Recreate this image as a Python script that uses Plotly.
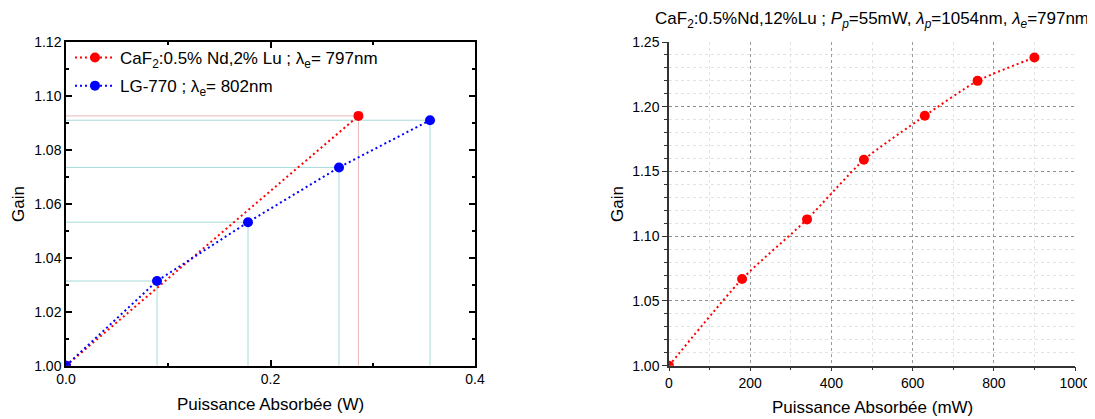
import plotly.graph_objects as go

# ---------------- data ----------------
# Left panel
caf_x = [0.0, 0.286]
caf_y = [1.000, 1.0926]
lg_x = [0.0, 0.089, 0.178, 0.267, 0.356]
lg_y = [1.000, 1.0314, 1.0532, 1.0735, 1.0910]
left_xticks = [0.0, 0.2, 0.4]
left_xticklabels = ["0.0", "0.2", "0.4"]
left_yticks = [1.00, 1.02, 1.04, 1.06, 1.08, 1.10, 1.12]
left_yticklabels = ["1.00", "1.02", "1.04", "1.06", "1.08", "1.10", "1.12"]

# Right panel
r_x = [0, 180, 340, 480, 630, 760, 900]
r_y = [1.000, 1.067, 1.113, 1.159, 1.193, 1.220, 1.238]
right_xticks = [0, 200, 400, 600, 800, 1000]
right_yticks = [1.00, 1.05, 1.10, 1.15, 1.20, 1.25]
right_yticklabels = ["1.00", "1.05", "1.10", "1.15", "1.20", "1.25"]

# page body has an 8px margin; the figure is sized to fit the window
OFF = 8
W, H = 1095 - OFF, 419 - OFF
def px(x):  # window pixel x -> paper fraction
    return (x - OFF) / W
def py(y):  # window pixel y -> paper fraction
    return 1 - (y - OFF) / H

FONT = "Liberation Sans, Arial, sans-serif"
RED = "#ff0000"
BLUE = "#0000ff"

fig = go.Figure()

fig.add_trace(go.Scatter(
    x=caf_x, y=caf_y, mode="lines+markers", legendgroup="a",
    name="CaF<sub>2</sub>:0.5% Nd,2% Lu ; λ<sub>e</sub>= 797nm",
    line=dict(color=RED, width=2, dash="2px,3px"),
    marker=dict(color=RED, size=10),
    xaxis="x", yaxis="y"))
fig.add_trace(go.Scatter(
    x=lg_x, y=lg_y, mode="lines+markers", legendgroup="b",
    name="LG-770 ; λ<sub>e</sub>= 802nm",
    line=dict(color=BLUE, width=2, dash="2px,3px"),
    marker=dict(color=BLUE, size=10),
    xaxis="x", yaxis="y"))
fig.add_trace(go.Scatter(
    x=r_x, y=r_y, mode="lines+markers", showlegend=False,
    line=dict(color=RED, width=2, dash="2px,3px", shape="spline", smoothing=0.6),
    marker=dict(color=RED, size=10),
    xaxis="x2", yaxis="y2"))

# drop lines (derived from data)
shapes = []
def drops(xs, ys, color):
    for xv, yv in zip(xs, ys):
        if xv == 0:
            continue
        shapes.append(dict(type="line", xref="x", yref="y", x0=0, x1=xv, y0=yv, y1=yv,
                           line=dict(color=color, width=1), layer="below"))
        shapes.append(dict(type="line", xref="x", yref="y", x0=xv, x1=xv, y0=1.0, y1=yv,
                           line=dict(color=color, width=1), layer="below"))
drops(caf_x, caf_y, "#e8bcbc")
drops(lg_x, lg_y, "#a6dada")

# domains from pixel geometry
lx0, lx1 = px(66), px(475)
rx0, rx1 = px(669), px(1075)
yb, yt = py(365.7), py(42)

tickfont = dict(family=FONT, size=14, color="#000")

fig.update_layout(
    width=W, height=H,
    margin=dict(l=0, r=0, t=0, b=0, autoexpand=False),
    paper_bgcolor="white", plot_bgcolor="white",
    font=dict(family=FONT, color="#000"),
    showlegend=True,
    legend=dict(x=px(70), y=py(40), xanchor="left", yanchor="top",
                bgcolor="rgba(0,0,0,0)", font=dict(family=FONT, size=17),
                itemwidth=40, tracegroupgap=3),
    xaxis=dict(domain=[lx0, lx1], range=[0, 0.4], tickvals=left_xticks, ticktext=left_xticklabels,
               ticks="inside", ticklen=6, tickwidth=1.5, tickcolor="#000",
               minor=dict(dtick=0.1, ticks="inside", ticklen=3, tickcolor="#000", showgrid=False),
               showline=True, linecolor="#000", linewidth=1.5, mirror="ticks",
               showgrid=False, zeroline=False, tickfont=tickfont, anchor="y"),
    yaxis=dict(domain=[yb, yt], range=[1.0, 1.12], tickvals=left_yticks, ticktext=left_yticklabels,
               ticks="inside", ticklen=6, tickwidth=1.5, tickcolor="#000",
               minor=dict(dtick=0.01, ticks="inside", ticklen=3, tickcolor="#000", showgrid=False),
               showline=True, linecolor="#000", linewidth=1.5, mirror="ticks",
               showgrid=False, zeroline=False, tickfont=tickfont, anchor="x"),
    xaxis2=dict(domain=[rx0, rx1], range=[0, 1000], tickvals=right_xticks,
                ticks="outside", ticklen=4, tickwidth=1, tickcolor="#333",
                minor=dict(dtick=100, ticks="outside", ticklen=3, tickcolor="#333",
                           showgrid=True, gridcolor="#e2e2e2", gridwidth=1),
                showline=True, linecolor="#333", linewidth=1.5, mirror=False,
                showgrid=True, gridcolor="#9a9a9a", griddash="dot", gridwidth=1,
                zeroline=False, tickfont=tickfont, anchor="y2"),
    yaxis2=dict(domain=[yb, yt], range=[1.0, 1.25], tickvals=right_yticks, ticktext=right_yticklabels,
                ticks="outside", ticklen=5, tickwidth=1, tickcolor="#333",
                minor=dict(dtick=0.01, ticks="outside", ticklen=3, tickcolor="#333",
                           showgrid=True, gridcolor="#e2e2e2", gridwidth=1),
                showline=True, linecolor="#333", linewidth=1.5, mirror=False,
                showgrid=True, gridcolor="#8c8c8c", griddash="dot", gridwidth=1,
                zeroline=False, tickfont=tickfont, anchor="x2"),
    shapes=shapes,
)

ann_font = dict(family=FONT, size=17, color="#000")
fig.update_layout(annotations=[
    dict(text="Puissance Absorbée (W)", x=(lx0 + lx1) / 2, y=py(404), xref="paper", yref="paper",
         showarrow=False, xanchor="center", yanchor="middle", font=ann_font),
    dict(text="Gain", x=px(18), y=py(204), xref="paper", yref="paper", textangle=-90,
         showarrow=False, xanchor="center", yanchor="middle", font=ann_font),
    dict(text="Puissance Absorbée (mW)", x=(rx0 + rx1) / 2, y=py(407), xref="paper", yref="paper",
         showarrow=False, xanchor="center", yanchor="middle", font=ann_font),
    dict(text="Gain", x=px(617), y=py(204), xref="paper", yref="paper", textangle=-90,
         showarrow=False, xanchor="center", yanchor="middle", font=ann_font),
    dict(text="CaF<sub>2</sub>:0.5%Nd,12%Lu ; <i>P</i><sub><i>p</i></sub>=55mW, "
              "<i>λ</i><sub><i>p</i></sub>=1054nm, <i>λ</i><sub><i>e</i></sub>=797nm",
         x=(rx0 + rx1) / 2, y=py(20), xref="paper", yref="paper",
         showarrow=False, xanchor="center", yanchor="middle", font=ann_font),
])

fig.write_html("out.html")
